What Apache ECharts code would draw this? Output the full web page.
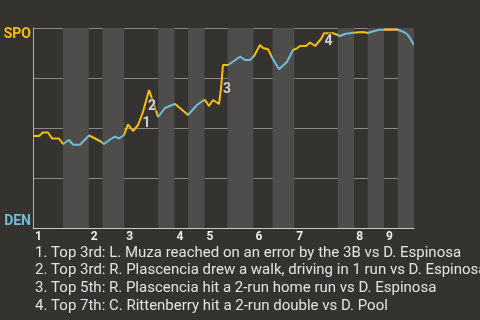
<!DOCTYPE html>
<html>
<head>
<meta charset="utf-8">
<script src="https://cdn.jsdelivr.net/npm/echarts@6/dist/echarts.min.js"></script>
<style>
  html, body { margin: 0; padding: 0; background: #353330; }
  #chart { width: 480px; height: 320px; }
</style>
</head>
<body>
<div id="chart"></div>
<script>
// Win probability for SPO (0 = DEN wins, 100 = SPO wins), by pitch of the game
const pitchNo = [0, 4.4, 7.3, 11.0, 14.0, 19.1, 22.0, 24.3, 26.5, 29.4, 34.5, 41.2, 46.3, 49.2, 52.2,
  56.6, 60.3, 63.2, 66.9, 69.8, 73.5, 77.2, 80.8, 85.3, 91.9, 97.0, 102.2, 104.4, 108.8, 113.9,
  120.5, 124.9, 126.4, 129.3, 132.3, 136.7, 138.2, 139.6, 143.3, 147.7, 152.1, 155.8, 159.5, 162.4,
  166.8, 169.0, 172.7, 176.4, 180.8, 186.7, 191.1, 194.0, 196.2, 200.6, 203.6, 207.3, 211.7, 213.9,
  220.5, 224.1, 225.6, 229.3, 235.2, 236.6, 242.5, 246.2, 251.3, 255.0, 257.9, 268.2, 271.9, 274.9,
  277.1, 280];
const spoWinPct = [46, 46, 47.75, 47.75, 44.75, 44.75, 42, 43, 44, 41.65, 41.65, 46.25, 44.5, 43.5, 42,
  44.25, 45.65, 44.75, 46.5, 51.85, 48.5, 51.5, 58, 69, 55.5, 60, 61.5, 62, 59.5, 56.5,
  61.5, 63.65, 64, 61, 64, 62, 70, 81.5, 81.5, 83.5, 85.65, 84, 84, 86,
  91.5, 90, 89.35, 84.35, 79.35, 83.15, 89, 89.85, 91, 91, 92.75, 91, 94.5, 97.35,
  97.35, 96.5, 96, 97, 97.65, 98.15, 98, 97.5, 98.65, 99.15, 99.15, 99.15, 98.15, 97,
  94.85, 91.5];

// Half-inning boundaries (pitch numbers)
const innings = ['1', '2', '3', '4', '5', '6', '7', '8', '9'];
const topStart = [0, 41, 67, 104, 126, 162, 192, 236, 258];
const bottomStart = [22, 51, 92, 114, 143, 176, 224, 246, 268];
const gameEnd = 280;

// Key plays
const eventNo = ['1', '2', '3', '4'];
const eventPitch = [79.0, 83.0, 138.2, 212.8];
const eventWinPct = [54.75, 63.5, 72, 96];
const notes = [
  '1. Top 3rd: L. Muza reached on an error by the 3B vs D. Espinosa',
  '2. Top 3rd: R. Plascencia drew a walk, driving in 1 run vs D. Espinosa',
  '3. Top 5th: R. Plascencia hit a 2-run home run vs D. Espinosa',
  '4. Top 7th: C. Rittenberry hit a 2-run double vs D. Pool'
];

const SPO_COLOR = '#fcbb0f';
const DEN_COLOR = '#72bcd6';

const pieces = [];
const bands = [];
for (let i = 0; i < innings.length; i++) {
  const botEnd = i + 1 < topStart.length ? topStart[i + 1] : gameEnd;
  pieces.push({ gte: topStart[i], lt: bottomStart[i], color: SPO_COLOR });
  pieces.push({ gte: bottomStart[i], lte: botEnd, color: DEN_COLOR });
  bands.push([{ xAxis: bottomStart[i] }, { xAxis: botEnd }]);
}

const chart = echarts.init(document.getElementById('chart'), null, { renderer: 'canvas' });
chart.setOption({
  backgroundColor: '#353330',
  animation: false,
  textStyle: { fontFamily: 'Roboto' },
  title: {
    text: notes.join('\n'),
    left: 35,
    top: 244,
    padding: 0,
    textStyle: { fontFamily: 'Roboto', fontSize: 15, fontWeight: 'normal', color: '#e2e2e2', lineHeight: 17.8 }
  },
  grid: { left: 33, right: 66, top: 28, bottom: 92 },
  xAxis: {
    type: 'value',
    min: 0,
    max: gameEnd,
    splitLine: { show: false },
    axisTick: { show: false },
    axisLine: { show: true, lineStyle: { color: '#c8c8c8', width: 1 } },
    axisLabel: {
      customValues: topStart,
      formatter: v => innings[topStart.indexOf(v)] || '',
      align: 'left',
      margin: 3,
      padding: [0, 0, 0, 2],
      color: '#ececec',
      fontSize: 12,
      fontWeight: 'bold',
      fontFamily: 'Roboto',
      showMinLabel: true,
      showMaxLabel: true,
      hideOverlap: false
    }
  },
  yAxis: {
    type: 'value',
    min: 0,
    max: 100,
    interval: 25,
    axisLine: { show: true, lineStyle: { color: '#b0b0b0', width: 1 } },
    axisTick: { show: false },
    splitLine: { lineStyle: { color: '#8a8886', width: 1 } },
    axisLabel: {
      margin: 2,
      formatter: v => (v === 100 ? '{s|SPO}' : v === 0 ? '{d|DEN}' : ''),
      rich: {
        s: { color: SPO_COLOR, fontSize: 14, fontWeight: 'bold', fontFamily: 'Roboto', padding: [12, 0, 0, 0] },
        d: { color: DEN_COLOR, fontSize: 14, fontWeight: 'bold', fontFamily: 'Roboto', padding: [0, 0, 13, 0] }
      }
    }
  },
  visualMap: {
    type: 'piecewise',
    show: false,
    dimension: 0,
    seriesIndex: 0,
    pieces: pieces
  },
  series: [
    {
      type: 'line',
      data: pitchNo.map((p, i) => [p, spoWinPct[i]]),
      showSymbol: false,
      lineStyle: { width: 2 },
      z: 3
    },
    {
      type: 'line',
      data: [],
      silent: true,
      z: 1,
      markArea: {
        silent: true,
        itemStyle: { color: '#4e4d4b' },
        data: bands
      }
    },
    {
      type: 'scatter',
      data: eventPitch.map((p, i) => [p, eventWinPct[i], eventNo[i]]),
      symbolSize: 0,
      z: 4,
      label: {
        show: true,
        position: 'inside',
        offset: [6, 5],
        formatter: p => p.data[2],
        color: '#f4f4f4',
        fontSize: 14,
        fontWeight: 'bold',
        fontFamily: 'Roboto',
        textBorderColor: 'rgba(60,60,60,0.9)',
        textBorderWidth: 2
      }
    }
  ]
});
</script>
</body>
</html>
